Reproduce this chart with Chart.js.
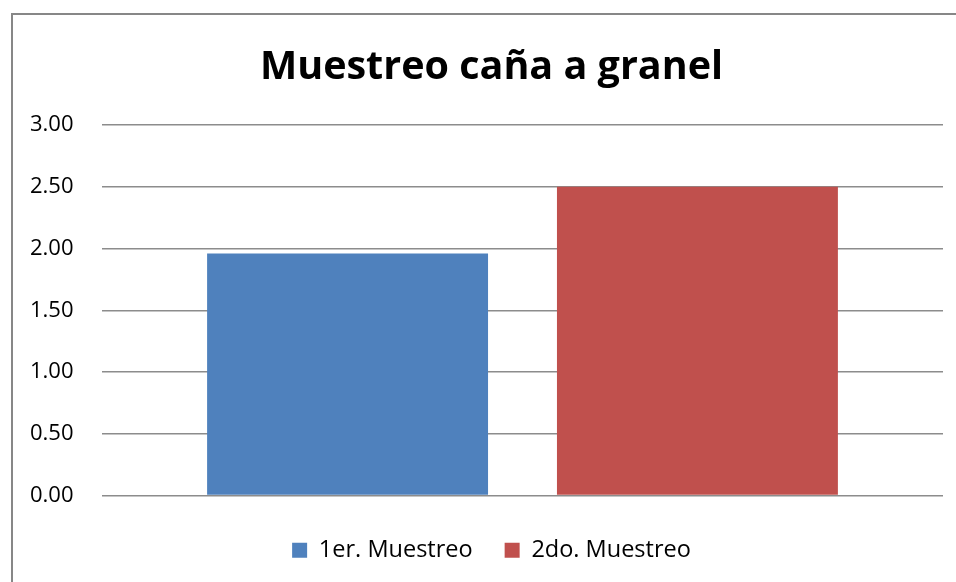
<!DOCTYPE html>
<html>
<head>
<meta charset="utf-8">
<script src="https://cdn.jsdelivr.net/npm/chart.js@4/dist/chart.umd.min.js"></script>
<style>
    body { margin: 0; background: #fff; }
    #wrap { position: relative; width: 956px; height: 582px; overflow: hidden; }
    #frame {
        position: absolute; left: 11px; top: 13px; width: 1000px; height: 1000px;
        border-left: 2px solid #878787; border-top: 2px solid #878787;
        pointer-events: none;
    }
</style>
</head>
<body>
<div id="wrap">
    <canvas id="myChart" width="956" height="582"></canvas>
    <div id="frame"></div>
</div>
<script>
// data
var categories = [""];
var seriesNames = ["1er. Muestreo", "2do. Muestreo"];
var muestreo1 = [1.96];
var muestreo2 = [2.50];
var yTicks = [0, 0.5, 1, 1.5, 2, 2.5, 3];
var barColors = ["#4F81BD", "#C0504D"];

Chart.defaults.font.family = "'Open Sans', sans-serif";
Chart.defaults.color = "#000";

new Chart("myChart", {
    type: "bar",
    data: {
        labels: categories,
        datasets: [{
            label: seriesNames[0],
            data: muestreo1,
            backgroundColor: barColors[0]
        }, {
            label: seriesNames[1],
            data: muestreo2,
            backgroundColor: barColors[1]
        }]
    },
    options: {
        responsive: false,
        animation: false,
        categoryPercentage: 0.832,
        barPercentage: 0.803,
        // left padding is large so title/legend center on the frame
        layout: { padding: { left: 40, right: 13, top: 0, bottom: 10 } },
        plugins: {
            title: {
                display: true,
                text: "Muestreo caña a granel",
                color: "#000",
                font: { size: 39.5, weight: "bold" },
                padding: { top: 44, bottom: 33.6 }
            },
            legend: {
                position: "bottom",
                maxHeight: 78,
                labels: {
                    boxWidth: 15,
                    boxHeight: 15,
                    padding: 32,
                    color: "#000",
                    font: { size: 23.5 }
                }
            },
            tooltip: { enabled: false }
        },
        scales: {
            x: {
                ticks: { display: false },
                grid: { display: false },
                border: { display: false },
                afterFit: function (s) { s.height = 11; }
            },
            y: {
                min: 0,
                max: 3,
                afterBuildTicks: function (s) {
                    s.ticks = yTicks.map(function (v) { return { value: v }; });
                },
                afterFit: function (s) { s.width = 62; },
                ticks: {
                    // mirrored so labels are not clipped to the narrow axis box
                    mirror: true,
                    padding: -72,
                    color: "#000",
                    font: { size: 22 },
                    callback: function (v) { return Number(v).toFixed(2); }
                },
                grid: { color: "#8c8c8c", lineWidth: 1.5, drawTicks: false },
                border: { display: false }
            }
        }
    }
});
</script>
</body>
</html>
